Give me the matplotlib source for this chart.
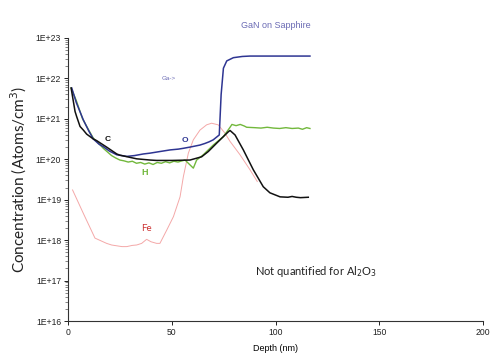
import numpy as np
import matplotlib
matplotlib.use("Agg")
import matplotlib.pyplot as plt
from matplotlib.ticker import LogLocator, FixedLocator, FuncFormatter

# ---- data (depth in nm, log10 concentration) ----
o_depth = [1.8, 4, 7.4, 10, 12.2, 15, 17, 20, 23.5, 28.3, 32, 36.3, 39.5, 44.3, 49.2, 53.2, 55.6, 58.8,
           63.6, 66, 68, 70, 72.9, 73.8, 74.9, 76.5, 79.7, 84, 87.7, 100, 116.6]
o_log = [21.76, 21.4, 20.97, 20.7, 20.5, 20.37, 20.31, 20.2, 20.11, 20.07, 20.09, 20.13, 20.15, 20.19, 20.23,
         20.25, 20.27, 20.30, 20.35, 20.39, 20.43, 20.48, 20.6, 21.6, 22.25, 22.43, 22.51, 22.54, 22.55, 22.55, 22.55]

h_depth = [1.5, 4, 7, 10, 12.2, 15, 17, 19, 21, 23, 25, 27, 29, 31, 33, 35, 37, 39, 41, 43, 45, 47, 49, 51,
           53, 55, 56.4, 58, 60.4, 62, 65.2, 70, 74.9, 78.1, 79, 81, 83, 85, 86.1, 90, 93, 96, 99, 102, 105,
           108, 111, 113, 115, 116.6]
h_log = [21.76, 21.45, 21.0, 20.72, 20.52, 20.38, 20.27, 20.18, 20.09, 20.03, 19.98, 19.96, 19.93, 19.95,
         19.9, 19.92, 19.88, 19.91, 19.87, 19.92, 19.9, 19.94, 19.91, 19.95, 19.93, 19.96, 19.98, 19.9, 19.78,
         19.98, 20.11, 20.35, 20.56, 20.79, 20.86, 20.83, 20.86, 20.82, 20.79, 20.78, 20.77, 20.79, 20.77,
         20.76, 20.78, 20.76, 20.77, 20.74, 20.78, 20.76]

c_depth = [1.5, 3.4, 4.2, 5.8, 7.4, 9, 12.2, 13.8, 18.6, 23.5, 25, 33.1, 39.5, 42.7, 50, 58.8, 64.4, 67.6,
           71.7, 74.9, 77.3, 78.1, 80.5, 84.5, 89.3, 94.1, 97.3, 102.2, 106, 108, 110, 112, 115.8]
c_log = [21.76, 21.18, 21.05, 20.81, 20.72, 20.62, 20.5, 20.46, 20.3, 20.13, 20.1, 20.01, 19.98, 19.97,
         19.97, 19.98, 20.06, 20.19, 20.4, 20.56, 20.68, 20.71, 20.6, 20.23, 19.74, 19.32, 19.17, 19.07,
         19.06, 19.08, 19.06, 19.05, 19.06]

fe_depth = [2.2, 7.4, 13, 18.6, 21, 23.5, 26, 28.3, 31, 33.1, 35.5, 37.9, 40, 42.7, 44.3, 47.6, 50.8, 54,
            55.6, 58, 60.4, 63.6, 66.8, 69.2, 72.4, 75.7, 78.1, 82.9, 87.7, 91.2]
fe_log = [19.24, 18.66, 18.05, 17.92, 17.88, 17.86, 17.84, 17.84, 17.87, 17.88, 17.92, 18.02, 17.96, 17.92,
          17.92, 18.25, 18.58, 19.07, 19.57, 20.15, 20.48, 20.72, 20.85, 20.89, 20.85, 20.64, 20.44,
          20.11, 19.74, 19.45]

x_ticks = [0, 50, 100, 150, 200]
y_decades = [16, 17, 18, 19, 20, 21, 22, 23]

fig = plt.figure(figsize=(5.0, 3.64), dpi=100)
ax = fig.add_axes([0.136, 0.118, 0.830, 0.778])

def conc(vals):
    return 10.0 ** np.asarray(vals)

ax.plot(fe_depth, conc(fe_log), color="#f4a8a8", lw=0.7)
ax.plot(h_depth, conc(h_log), color="#72b83c", lw=1.0)
ax.plot(o_depth, conc(o_log), color="#2e3592", lw=1.1)
ax.plot(c_depth, conc(c_log), color="#111111", lw=1.1)

ax.set_yscale("log")
ax.set_xlim(0, 200)
ax.set_ylim(10.0 ** y_decades[0], 10.0 ** y_decades[-1])
ax.xaxis.set_major_locator(FixedLocator(x_ticks))
ax.yaxis.set_major_locator(FixedLocator([10.0 ** d for d in y_decades]))
ax.yaxis.set_minor_locator(LogLocator(base=10, subs=np.arange(2, 10), numticks=100))
ax.yaxis.set_major_formatter(FuncFormatter(lambda v, p: "1E+%d" % round(np.log10(v))))
ax.yaxis.set_minor_formatter(FuncFormatter(lambda v, p: ""))

for s in ["top", "right"]:
    ax.spines[s].set_visible(False)
for s in ["left", "bottom"]:
    ax.spines[s].set_linewidth(0.8)
    ax.spines[s].set_color("#333333")

ax.tick_params(axis="both", which="major", length=3, width=0.7, labelsize=6.2, colors="#222222", pad=2)
ax.tick_params(axis="y", which="minor", length=2, width=0.5, colors="#555555")
for lab in ax.get_xticklabels() + ax.get_yticklabels():
    lab.set_fontfamily("Liberation Sans")

ax.set_xlabel("Depth (nm)", fontsize=6.5, family="Liberation Sans", labelpad=5)
ax.set_ylabel("Concentration (Atoms/cm$^3$)", fontsize=11, family="Lato", color="#222222", labelpad=5)

# annotations
ax.text(19.1, 10 ** 20.48, "C", fontsize=6, fontweight="bold", color="#111111", ha="center", va="center", family="Liberation Sans")
ax.text(56.4, 10 ** 20.46, "O", fontsize=6, fontweight="bold", color="#2e3592", ha="center", va="center", family="Liberation Sans")
ax.text(36.8, 10 ** 19.68, "H", fontsize=6.5, fontweight="bold", color="#72b83c", ha="center", va="center", family="Liberation Sans")
ax.text(37.6, 10 ** 18.28, "Fe", fontsize=7, color="#cc3333", ha="center", va="center", family="Lato")
ax.text(48.3, 10 ** 22.0, "Ga->", fontsize=4.5, color="#6a6ab4", ha="center", va="center", family="Liberation Sans")
ax.text(90.1, 10 ** 17.22, "Not quantified for Al$_2$O$_3$", fontsize=8, color="#222222", ha="left", va="center", family="Lato")
fig.text(276 / 500, 1 - 25 / 364, "GaN on Sapphire", fontsize=6.5, color="#6a6ab4", ha="center", va="center", family="Liberation Sans")

fig.savefig("out.png", dpi=100)
